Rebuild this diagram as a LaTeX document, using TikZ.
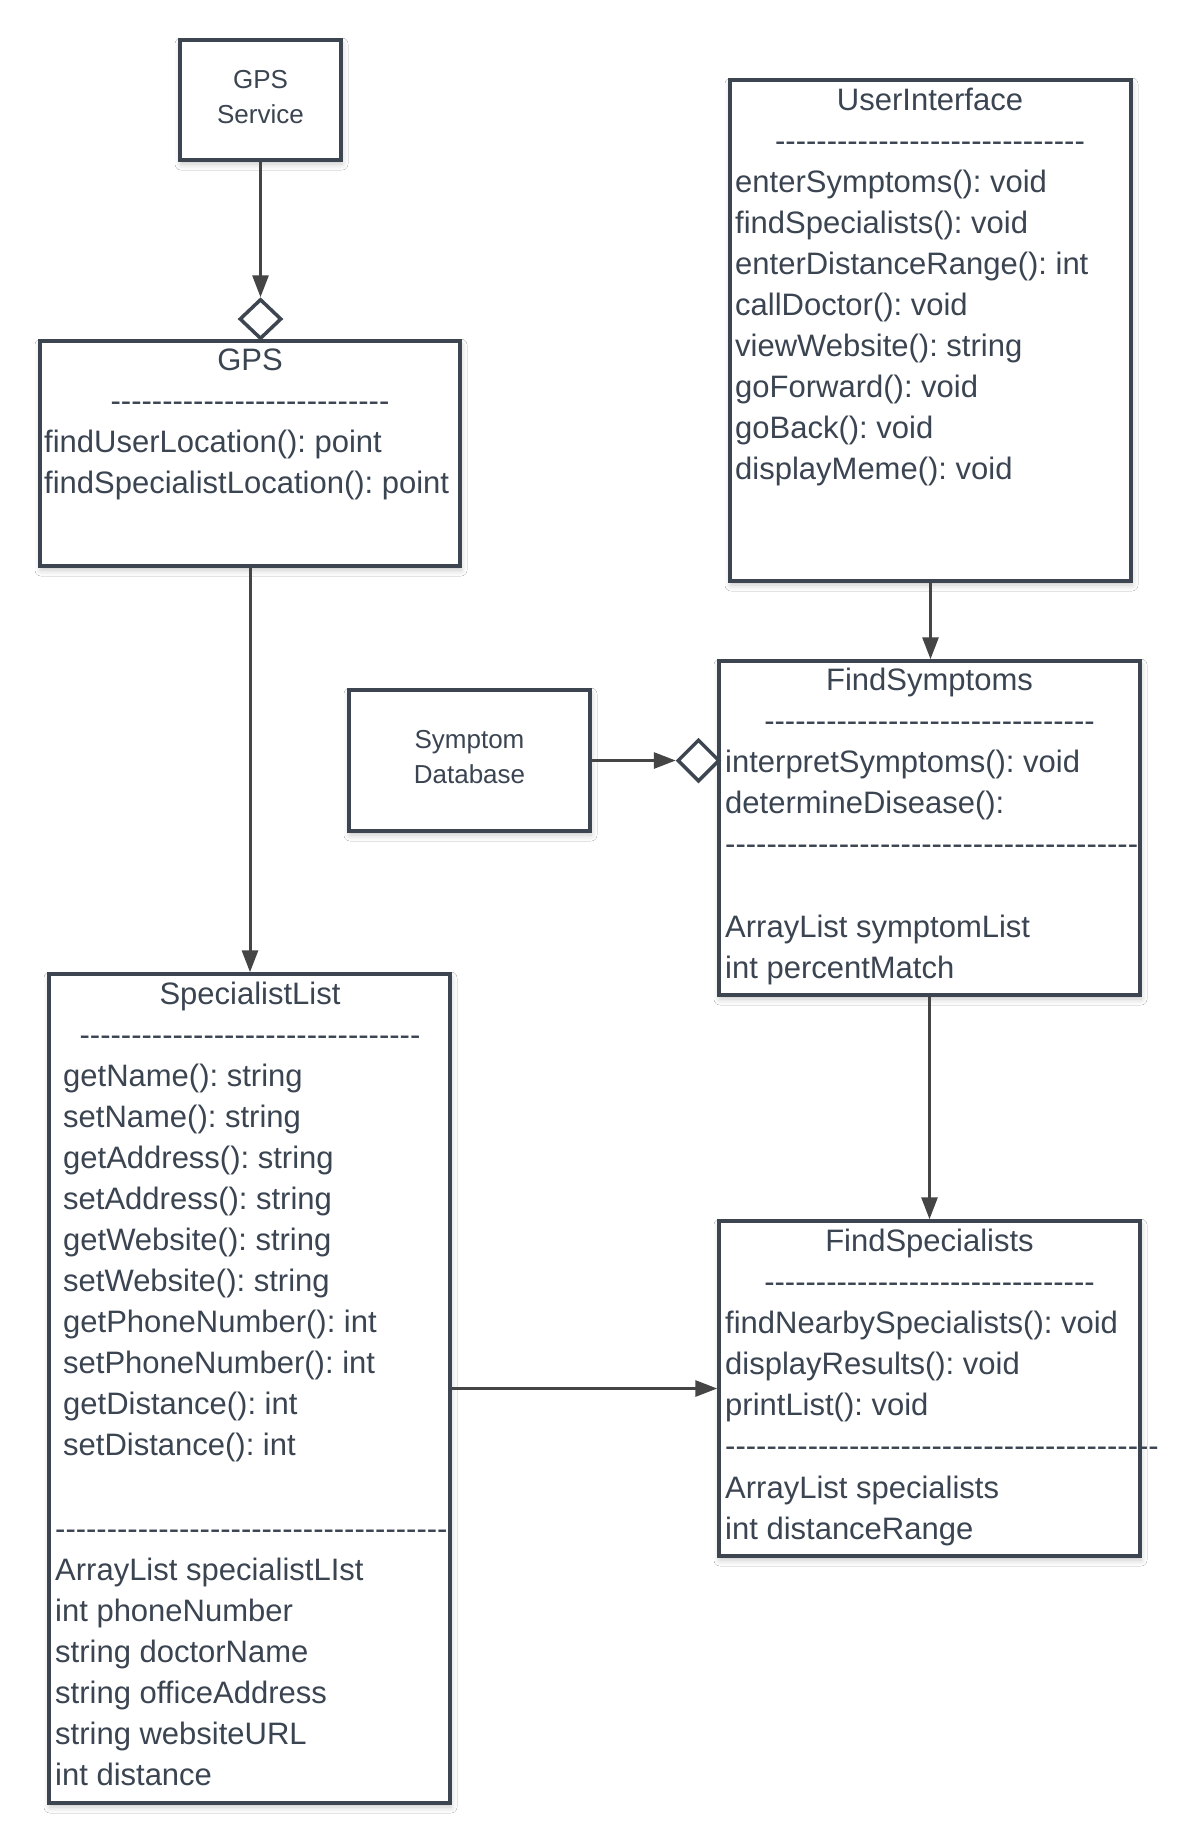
\documentclass[tikz,border=0pt]{standalone}
\usepackage{fontspec}
\setmainfont{Liberation Sans}
\usetikzlibrary{arrows.meta,shapes.geometric,shadows.blur}
\definecolor{ink}{HTML}{3B4451}
\definecolor{edgecol}{HTML}{3D4550}
\definecolor{arrcol}{HTML}{454545}
\newcommand\hyphens[1]{\ifnum#1>0 -{}\expandafter\hyphens\expandafter{\the\numexpr#1-1\relax}\fi}
\tikzset{
  classbox/.style={draw=edgecol, line width=3.5pt, fill=white, rectangle, inner sep=0pt,
    blur shadow={shadow xshift=1pt, shadow yshift=-4pt, shadow blur radius=6pt, shadow opacity=22}},
  txt/.style={text=ink, inner sep=0pt, font=\fontsize{31}{41}\selectfont},
  smalltxt/.style={text=ink, inner sep=0pt, font=\fontsize{26}{35}\selectfont, align=center},
  conn/.style={draw=arrcol, line width=3pt, -{Triangle[length=22pt,width=16pt]}},
  agg/.style={diamond, draw=edgecol, line width=3.5pt, fill=white, inner sep=0pt,
    minimum width=42pt, minimum height=40pt},
}
\begin{document}
\frenchspacing
\begin{tikzpicture}[x=1pt,y=-1pt]
\fill[white] (0,0) rectangle (1180,1842);
\useasboundingbox (0,0) rectangle (1180,1842);

% boxes
\node[classbox, minimum width=161pt, minimum height=120pt] (gpsserv) at (260.5,100) {};
\node[classbox, minimum width=420pt, minimum height=225pt] (gps) at (250,453.5) {};
\node[classbox, minimum width=401pt, minimum height=501pt] (ui) at (930.5,330.5) {};
\node[classbox, minimum width=421pt, minimum height=334pt] (fsym) at (929.5,828) {};
\node[classbox, minimum width=241pt, minimum height=141pt] (symdb) at (469.5,760.5) {};
\node[classbox, minimum width=421pt, minimum height=335pt] (fspec) at (929.5,1388.5) {};
\node[classbox, minimum width=401pt, minimum height=829pt] (slist) at (249.5,1388.5) {};

\node[smalltxt] (gpsserv-txt) at (260.5,97.5) {GPS\\Service};
\node[smalltxt] (symdb-txt) at (469.5,757.5) {Symptom\\Database};

% aggregation diamonds
\node[agg] (dia1) at (260.5,319) {};
\node[agg, minimum width=42pt, minimum height=42pt] (dia2) at (698.5,760.5) {};

% connectors
\draw[conn] (gpsserv.south) -- (dia1.north);
\draw[conn] (gps.south) -- (gps.south |- slist.north);
\draw[conn] (ui.south) -- (ui.south |- fsym.north);
\draw[conn] (fsym.south) -- (fspec.north);
\draw[conn] (symdb.east) -- (dia2.west);
\draw[conn] (slist.east) -- (fspec.west);

% GPS
\node[txt, anchor=base] (gps-title) at (250,370) {GPS};
\node[txt, anchor=base] (gps-dash) at (250,411) {\hyphens{27}};
\foreach \t [count=\i from 0] in {findUserLocation(): point, findSpecialistLocation(): point}
  \node[txt, anchor=base west] (gps-m\i) at (44,{452+41.1*\i}) {\t};

% UserInterface
\node[txt, anchor=base] (ui-title) at (930,110) {UserInterface};
\node[txt, anchor=base] (ui-dash) at (930,151) {\hyphens{30}};
\foreach \t [count=\i from 0] in {enterSymptoms(): void, findSpecialists(): void, enterDistanceRange(): int, callDoctor(): void, viewWebsite(): string, goForward(): void, goBack(): void, displayMeme(): void}
  \node[txt, anchor=base west] (ui-m\i) at (735,{192+41.1*\i}) {\t};

% FindSymptoms
\node[txt, anchor=base] (fsym-title) at (929.5,690) {FindSymptoms};
\node[txt, anchor=base] (fsym-dash) at (929.5,731) {\hyphens{32}};
\foreach \t [count=\i from 0] in {interpretSymptoms(): void, determineDisease():}
  \node[txt, anchor=base west] (fsym-m\i) at (725,{772+41.1*\i}) {\t};
\node[txt, anchor=base west] (fsym-sep) at (725,854) {\hyphens{40}};
\foreach \t [count=\i from 0] in {ArrayList symptomList, int percentMatch}
  \node[txt, anchor=base west] (fsym-a\i) at (725,{937+41.1*\i}) {\t};

% FindSpecialists
\node[txt, anchor=base] (fspec-title) at (929.5,1251) {FindSpecialists};
\node[txt, anchor=base] (fspec-dash) at (929.5,1292) {\hyphens{32}};
\foreach \t [count=\i from 0] in {findNearbySpecialists(): void, displayResults(): void, printList(): void}
  \node[txt, anchor=base west] (fspec-m\i) at (725,{1333+41.1*\i}) {\t};
\node[txt, anchor=base west] (fspec-sep) at (725,1456) {\hyphens{42}};
\foreach \t [count=\i from 0] in {ArrayList specialists, int distanceRange}
  \node[txt, anchor=base west] (fspec-a\i) at (725,{1498+41.1*\i}) {\t};

% SpecialistList
\node[txt, anchor=base] (slist-title) at (250,1004) {SpecialistList};
\node[txt, anchor=base] (slist-dash) at (250,1045) {\hyphens{33}};
\foreach \t [count=\i from 0] in {getName(): string, setName(): string, getAddress(): string, setAddress(): string, getWebsite(): string, setWebsite(): string, getPhoneNumber(): int, setPhoneNumber(): int, getDistance(): int, setDistance(): int}
  \node[txt, anchor=base west] (slist-m\i) at (63,{1086+41.1*\i}) {\t};
\node[txt, anchor=base west] (slist-sep) at (55,1539) {\hyphens{38}};
\foreach \t [count=\i from 0] in {ArrayList specialistLIst, int phoneNumber, string doctorName, string officeAddress, string websiteURL, int distance}
  \node[txt, anchor=base west] (slist-a\i) at (55,{1580+41.1*\i}) {\t};
\end{tikzpicture}
\end{document}
